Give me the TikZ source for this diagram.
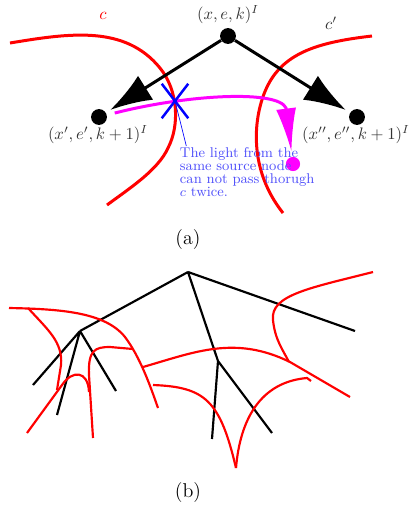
\documentclass[tikz,border=0pt]{standalone}
\usetikzlibrary{arrows.meta,shapes.misc}
\definecolor{lightpink}{RGB}{255,0,255}
\definecolor{notecol}{RGB}{80,80,250}
\begin{document}
\begin{tikzpicture}[x=0.6pt,y=-0.6pt,
  dot/.style={circle,fill=black,inner sep=0pt,minimum size=9.5pt},
  curve/.style={red,line width=1.8pt},
  branch/.style={line width=1.3pt},
  cut/.style={red,line width=1.3pt}]
\useasboundingbox (0,0) rectangle (411,512);
% (a)
\draw[curve] (10,43) .. controls (70,33) and (125,25) .. (160,68)
  .. controls (178,90) and (180,125) .. (168,148)
  .. controls (158,170) and (130,188) .. (107,205);
\draw[curve] (372,36) .. controls (320,42) and (285,52) .. (268,85)
  .. controls (255,110) and (245,165) .. (283,213);
\node[dot] (top) at (228,36) {};
\node[dot] (left) at (99,117) {};
\node[dot] (right) at (357,117) {};
\node[black!80] (toplab) at (228,15) {$(x,e,k)^I$};
\node[black!80] (leftlab) at (98,135) {$(x',e',k+1)^I$};
\node[black!80] (rightlab) at (356,135) {$(x'',e'',k+1)^I$};
\node[red] (clab) at (103,16) {$c$};
\node[black!80] (cplab) at (331,23) {$c'$};
\draw[line width=1.8pt,-{Latex[length=25pt,width=17pt]},shorten >=3pt] (top) -- (left);
\draw[line width=1.8pt,-{Latex[length=25pt,width=17pt]},shorten >=3pt] (top) -- (right);
\node[circle,fill=lightpink,inner sep=0pt,minimum size=8.5pt] (goal) at (293,164) {};
\draw[lightpink,line width=1.8pt,-{Latex[length=26pt,width=12pt]},shorten <=4.8pt,shorten >=3pt]
  (left) .. controls (190,94) and (278,90) .. (286,108) -- (goal);
\node[cross out,draw=blue,line width=1.5pt,minimum width=14.4pt,minimum height=19.2pt,inner sep=0pt] (cross) at (175,101) {};
\node[anchor=north west,inner sep=1pt,align=left,text=notecol,
  font=\fontsize{8.5}{7.8}\selectfont] (note) at (178,146)
  {The light from the\\same source node\\can not pass thorugh\\$c$ twice.};
\draw[blue] (cross.center) -- ([xshift=5pt]note.north west);
\node[font=\large] (capa) at (188,240) {(a)};
% (b)
\coordinate (root) at (188,272);
\coordinate (a) at (80,331);
\coordinate (r1) at (355,331);
\coordinate (b) at (218,361);
\coordinate (a1) at (33,385);
\coordinate (a2) at (57,415);
\coordinate (a3) at (116,391);
\coordinate (b1) at (212,439);
\coordinate (b2) at (272,433);
\draw[branch] (root) -- (a) (root) -- (r1) (root) -- (b);
\draw[branch] (a) -- (a1) (a) -- (a2) (a) -- (a3);
\draw[branch] (b) -- (b1) (b) -- (b2);
\draw[cut] (9,308) .. controls (60,309) and (105,312) .. (125,337)
  .. controls (140,357) and (150,385) .. (158,408);
\draw[cut] (28,308) .. controls (48,330) and (63,342) .. (61,365) -- (57,390);
\draw[cut] (27,433) -- (62,385) .. controls (72,370) and (88,370) .. (89,392);
\draw[cut] (93,438) -- (89,375) .. controls (88,350) and (95,347) .. (110,347) -- (133,349);
\draw[cut] (143,367) .. controls (195,352) and (235,335) .. (290,362) -- (350,397);
\draw[cut] (373,272) .. controls (310,288) and (270,295) .. (273,320)
  .. controls (275,340) and (283,350) .. (289,362);
\draw[cut] (153,385) .. controls (205,387) and (220,400) .. (236,468);
\draw[cut] (236,468) .. controls (240,420) and (260,382) .. (307,378) -- (311,381);
\node[font=\large] (capb) at (188,493) {(b)};
\end{tikzpicture}
\end{document}
